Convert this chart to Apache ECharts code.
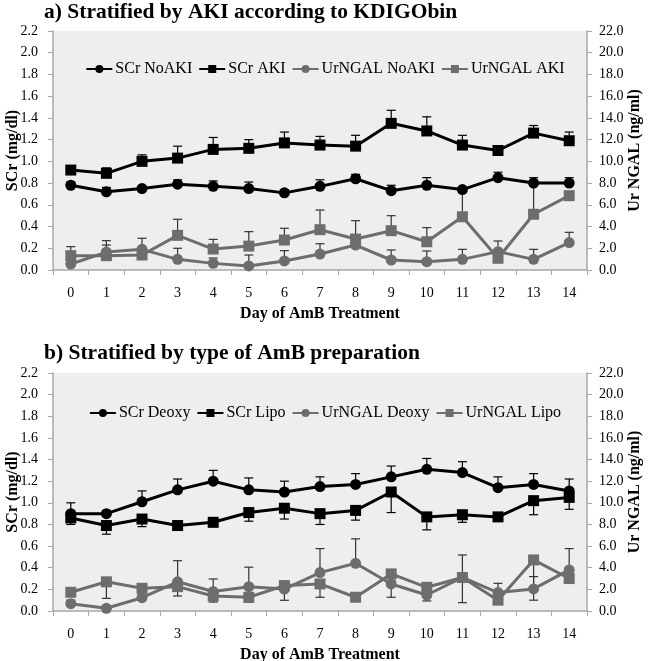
<!DOCTYPE html>
<html><head><meta charset="utf-8">
<script src="https://cdn.jsdelivr.net/npm/echarts@6/dist/echarts.min.js"></script>
<style>html,body{margin:0;padding:0;background:#fff}#c{width:650px;height:661px}</style>
</head><body><div id="c"></div>
<script>
const days = ['0','1','2','3','4','5','6','7','8','9','10','11','12','13','14'];
const leftTicks = ['0.0','0.2','0.4','0.6','0.8','1.0','1.2','1.4','1.6','1.8','2.0','2.2'];
const rightTicks = ['0.0','2.0','4.0','6.0','8.0','10.0','12.0','14.0','16.0','18.0','20.0','22.0'];

// Panel a) SCr in mg/dl (left axis), UrNGAL in ng/ml (right axis)
const scrNoAki    = [0.78,0.72,0.75,0.79,0.77,0.75,0.71,0.77,0.84,0.73,0.78,0.74,0.85,0.80,0.80];
const scrNoAkiHi  = [0.81,0.76,0.77,0.83,0.82,0.81,0.74,0.83,0.88,0.78,0.85,0.76,0.90,0.85,0.85];
const scrAki      = [0.92,0.89,1.00,1.03,1.11,1.12,1.17,1.15,1.14,1.35,1.28,1.15,1.10,1.26,1.19];
const scrAkiHi    = [0.95,0.94,1.06,1.14,1.22,1.20,1.27,1.23,1.24,1.47,1.41,1.24,1.14,1.33,1.27];
const urNoAki     = [0.55,1.65,1.90,0.98,0.61,0.37,0.83,1.47,2.30,0.92,0.77,0.98,1.69,0.98,2.52];
const urNoAkiHi   = [1.20,2.70,2.92,2.00,1.10,1.38,1.78,2.42,3.00,1.84,1.75,1.90,2.67,1.90,3.47];
const urAki       = [1.32,1.32,1.38,3.19,1.93,2.20,2.76,3.71,2.85,3.62,2.60,4.90,1.08,5.13,6.84];
const urAkiHi     = [2.15,2.30,1.60,4.67,2.82,3.53,3.84,5.52,4.54,5.00,3.90,7.50,1.50,8.00,7.20];

// Panel b)
const scrDeoxy    = [0.90,0.90,1.01,1.12,1.20,1.12,1.10,1.15,1.17,1.24,1.31,1.28,1.14,1.17,1.11];
const scrDeoxyHi  = [1.00,0.93,1.11,1.22,1.30,1.23,1.20,1.24,1.27,1.34,1.41,1.38,1.24,1.27,1.22];
const scrLipo     = [0.86,0.79,0.85,0.79,0.82,0.91,0.95,0.90,0.93,1.10,0.87,0.89,0.87,1.02,1.05];
const scrLipoLo   = [0.80,0.71,0.78,0.76,0.78,0.83,0.85,0.80,0.84,0.91,0.75,0.82,0.84,0.89,0.94];
const urDeoxy     = [0.68,0.25,1.23,2.70,1.80,2.25,2.03,3.55,4.41,2.50,1.48,3.10,1.70,2.04,3.80];
const urDeoxyHi   = [1.00,0.50,1.50,4.65,2.96,4.05,2.50,5.77,6.67,2.80,1.80,5.18,2.56,3.18,5.77];
const urLipo      = [1.73,2.70,2.10,2.25,1.39,1.27,2.35,2.50,1.27,3.43,2.19,3.10,1.00,4.72,3.00];
const urLipoLo    = [1.40,1.17,1.80,1.39,0.83,0.83,0.99,1.27,0.93,1.27,0.93,0.77,0.70,1.00,2.70];

const FONT = '"Liberation Serif", "Times New Roman", serif';
const GRAY = '#6d6d6d';
const AXIS = '#a8a8a8';

function yAxisDef(grid, ticks, side, name) {
  const step = parseFloat(ticks[1]) - parseFloat(ticks[0]);
  return {
    type: 'value', gridIndex: grid, position: side,
    min: parseFloat(ticks[0]), max: parseFloat(ticks[ticks.length - 1]), interval: step,
    name: name, nameLocation: 'middle', nameRotate: 90, nameMoveOverlap: false,
    nameGap: side === 'left' ? 32 : 40,
    nameTextStyle: {fontFamily: FONT, fontWeight: 'bold', fontSize: 16, color: '#000'},
    axisLine: {show: true, lineStyle: {color: AXIS, width: 1.5}},
    axisTick: {show: true, length: 5, lineStyle: {color: AXIS}},
    splitLine: {show: false},
    axisLabel: {fontFamily: FONT, fontSize: 14, color: '#000', margin: side === 'left' ? 15 : 12,
      formatter: v => ticks[Math.round((v - parseFloat(ticks[0])) / step)]}
  };
}
function xAxisDef(grid) {
  return {
    type: 'category', gridIndex: grid, data: days, boundaryGap: true,
    name: 'Day of AmB Treatment', nameLocation: 'middle', nameGap: 36, nameMoveOverlap: false,
    nameTextStyle: {fontFamily: FONT, fontWeight: 'bold', fontSize: 16, color: '#000'},
    axisLine: {show: true, lineStyle: {color: AXIS, width: 1.5}},
    axisTick: {show: true, length: 5, alignWithLabel: false, lineStyle: {color: AXIS}},
    axisLabel: {fontFamily: FONT, fontSize: 14, color: '#000', margin: 16}
  };
}
function lineSeries(name, data, xi, yi, color, symbol) {
  return {
    type: 'line', name: name, data: data, xAxisIndex: xi, yAxisIndex: yi,
    symbol: symbol, symbolSize: 11, showSymbol: true,
    lineStyle: {color: color, width: 3},
    itemStyle: {color: color, borderWidth: 0},
    z: 5, animation: false
  };
}
function errSeries(vals, bounds, upper, xi, yi, color) {
  return {
    type: 'custom', xAxisIndex: xi, yAxisIndex: yi, z: 3, animation: false, silent: true,
    data: vals.map((v, i) => upper ? [i, v, bounds[i]] : [i, bounds[i], v]),
    encode: {x: 0, y: [1, 2]},
    renderItem: function (params, api) {
      const i = api.value(0);
      const p1 = api.coord([i, api.value(1)]);
      const p2 = api.coord([i, api.value(2)]);
      const capY = upper ? p2[1] : p1[1];
      const st = {stroke: color, lineWidth: 1.2};
      return {type: 'group', children: [
        {type: 'line', shape: {x1: p1[0], y1: p1[1], x2: p2[0], y2: p2[1]}, style: st},
        {type: 'line', shape: {x1: p1[0] - 4.5, y1: capY, x2: p1[0] + 4.5, y2: capY}, style: st}
      ]};
    }
  };
}

const legendCommon = {
  left: 'center', itemWidth: 26, itemHeight: 10, itemGap: 6,
  textStyle: {fontFamily: FONT, fontSize: 16, color: '#000', padding: [0, 0, 0, -2]}
};
const titleStyle = {fontFamily: FONT, fontWeight: 'bold', fontSize: 21.5, fill: '#000'};

const option = {
  backgroundColor: '#fff',
  animation: false,
  graphic: [
    {type: 'text', left: 44, top: 1, style: Object.assign({text: 'a) Stratified by AKI according to KDIGObin'}, titleStyle)},
    {type: 'text', left: 44, top: 342, style: Object.assign({text: 'b) Stratified by type of AmB preparation'}, titleStyle)}
  ],
  legend: [
    Object.assign({}, legendCommon, {top: 56, data: ['SCr NoAKI', 'SCr AKI', 'UrNGAL NoAKI', 'UrNGAL AKI']}),
    Object.assign({}, legendCommon, {top: 400, data: ['SCr Deoxy', 'SCr Lipo', 'UrNGAL Deoxy', 'UrNGAL Lipo']})
  ],
  grid: [
    {left: 53, right: 63, top: 31, height: 239, show: true, backgroundColor: '#eeeeee', borderWidth: 0,
      containLabel: false, outerBoundsMode: 'none'},
    {left: 53, right: 63, top: 373, height: 238, show: true, backgroundColor: '#eeeeee', borderWidth: 0,
      containLabel: false, outerBoundsMode: 'none'}
  ],
  xAxis: [xAxisDef(0), xAxisDef(1)],
  yAxis: [
    yAxisDef(0, leftTicks, 'left', 'SCr (mg/dl)'),
    yAxisDef(0, rightTicks, 'right', 'Ur NGAL (ng/ml)'),
    yAxisDef(1, leftTicks, 'left', 'SCr (mg/dl)'),
    yAxisDef(1, rightTicks, 'right', 'Ur NGAL (ng/ml)')
  ],
  series: [
    errSeries(scrNoAki, scrNoAkiHi, true, 0, 0, '#000'),
    errSeries(scrAki, scrAkiHi, true, 0, 0, '#000'),
    errSeries(urNoAki, urNoAkiHi, true, 0, 1, '#333'),
    errSeries(urAki, urAkiHi, true, 0, 1, '#333'),
    lineSeries('SCr NoAKI', scrNoAki, 0, 0, '#000', 'circle'),
    lineSeries('SCr AKI', scrAki, 0, 0, '#000', 'rect'),
    lineSeries('UrNGAL NoAKI', urNoAki, 0, 1, GRAY, 'circle'),
    lineSeries('UrNGAL AKI', urAki, 0, 1, GRAY, 'rect'),

    errSeries(scrDeoxy, scrDeoxyHi, true, 1, 2, '#000'),
    errSeries(scrLipo, scrLipoLo, false, 1, 2, '#000'),
    errSeries(urDeoxy, urDeoxyHi, true, 1, 3, '#333'),
    errSeries(urLipo, urLipoLo, false, 1, 3, '#333'),
    lineSeries('SCr Deoxy', scrDeoxy, 1, 2, '#000', 'circle'),
    lineSeries('SCr Lipo', scrLipo, 1, 2, '#000', 'rect'),
    lineSeries('UrNGAL Deoxy', urDeoxy, 1, 3, GRAY, 'circle'),
    lineSeries('UrNGAL Lipo', urLipo, 1, 3, GRAY, 'rect')
  ]
};
const chart = echarts.init(document.getElementById('c'), null, {renderer: 'canvas'});
chart.setOption(option);
</script></body></html>
